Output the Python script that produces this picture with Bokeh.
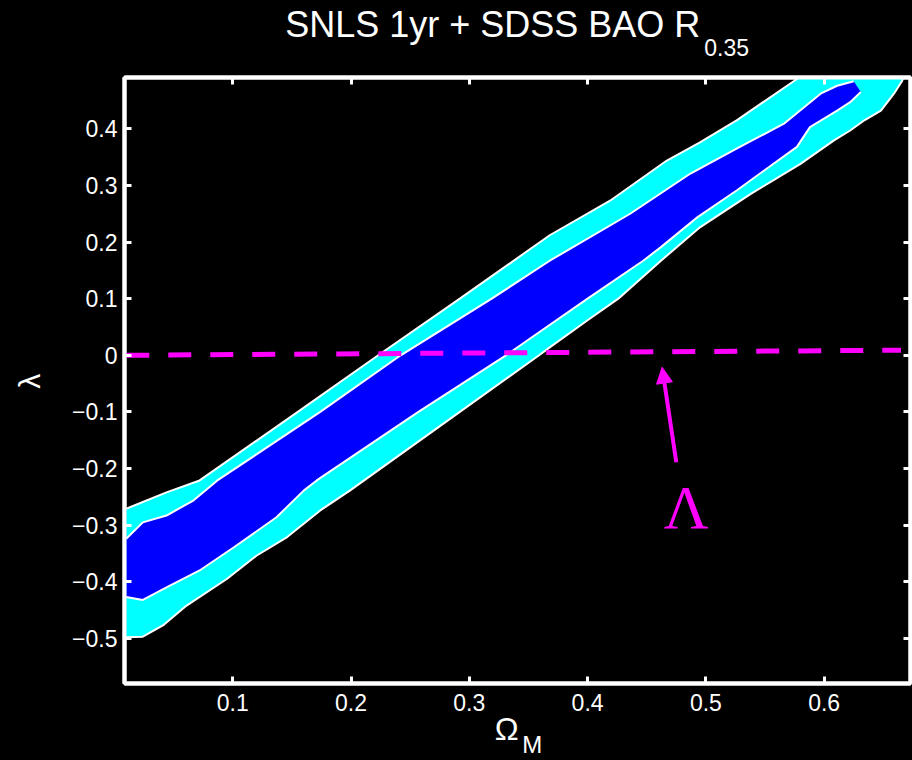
import math
from bokeh.plotting import figure
from bokeh.models import Range1d, LinearAxis, FixedTicker, Label, Arrow, NormalHead, CustomJSTickFormatter
from bokeh.embed import file_html
from bokeh.resources import INLINE

# ---- data ----
# 2-sigma (cyan) region: upper edge from left to top, then right/lower edge from top to left
outer_upper_x = [0.010, 0.024, 0.044, 0.072, 0.155, 0.223, 0.292, 0.368, 0.419, 0.467, 0.495, 0.526, 0.577, 0.580]
outer_upper_y = [-0.271, -0.259, -0.242, -0.221, -0.100, 0.000, 0.100, 0.212, 0.273, 0.344, 0.376, 0.415, 0.488, 0.495]
outer_lower_x = [0.667, 0.666, 0.659, 0.648, 0.634, 0.622, 0.608, 0.580, 0.538, 0.495, 0.462, 0.426, 0.400, 0.368,
                 0.359, 0.292, 0.199, 0.174, 0.146, 0.120, 0.095, 0.061, 0.041, 0.024, 0.010]
outer_lower_y = [0.495, 0.485, 0.462, 0.432, 0.415, 0.397, 0.379, 0.338, 0.285, 0.226, 0.167, 0.100, 0.062, 0.014,
                 0.000, -0.100, -0.239, -0.274, -0.321, -0.354, -0.395, -0.442, -0.477, -0.497, -0.498]

# 1-sigma (blue) region
inner_upper_x = [0.010, 0.024, 0.044, 0.067, 0.087, 0.174, 0.242, 0.319, 0.368, 0.436, 0.487, 0.526, 0.566, 0.597, 0.611, 0.625]
inner_upper_y = [-0.324, -0.295, -0.283, -0.256, -0.221, -0.100, 0.000, 0.100, 0.167, 0.250, 0.321, 0.365, 0.409, 0.462, 0.476, 0.484]
inner_lower_x = [0.631, 0.622, 0.611, 0.588, 0.577, 0.549, 0.526, 0.493, 0.462, 0.447, 0.400, 0.331, 0.257, 0.171,
                 0.160, 0.137, 0.101, 0.072, 0.044, 0.024, 0.010]
inner_lower_y = [0.465, 0.447, 0.432, 0.403, 0.368, 0.326, 0.291, 0.244, 0.191, 0.167, 0.100, 0.000, -0.100, -0.221,
                 -0.239, -0.286, -0.339, -0.380, -0.410, -0.432, -0.427]

# Lambda (cosmological constant) line
lambda_x = [0.010, 0.665]
lambda_y = [0.000, 0.009]

x_ticks = [0.1, 0.2, 0.3, 0.4, 0.5, 0.6]
x_tick_labels = ["0.1", "0.2", "0.3", "0.4", "0.5", "0.6"]
y_ticks = [-0.5, -0.4, -0.3, -0.2, -0.1, 0.0, 0.1, 0.2, 0.3, 0.4]
y_tick_labels = ["\u22120.5", "\u22120.4", "\u22120.3", "\u22120.2", "\u22120.1", "0", "0.1", "0.2", "0.3", "0.4"]

title_text = "SNLS 1yr + SDSS BAO R"
title_sub = "0.35"

# ---- figure ----
p = figure(width=912, height=760, output_backend="svg", toolbar_location=None,
           x_range=Range1d(0.0085, 0.673), y_range=Range1d(-0.5796, 0.4906),
           min_border_left=124, min_border_right=2, min_border_top=77, min_border_bottom=77,
           background_fill_color="black", border_fill_color="black",
           outline_line_color="white", outline_line_width=4)
p.xgrid.visible = False
p.ygrid.visible = False

p.patch(outer_upper_x + outer_lower_x, outer_upper_y + outer_lower_y, fill_color="#00FFFF", line_color=None)
p.patch(inner_upper_x + inner_lower_x, inner_upper_y + inner_lower_y, fill_color="#0000FF", line_color=None)
p.multi_line([outer_upper_x, outer_lower_x, inner_upper_x, inner_lower_x],
             [outer_upper_y, outer_lower_y, inner_upper_y, inner_lower_y],
             line_color="white", line_width=2)

p.line(lambda_x, lambda_y, line_color="#FF00FF", line_width=5, line_dash="23 19")

p.add_layout(Arrow(end=NormalHead(size=16, fill_color="#FF00FF", line_color="#FF00FF"),
                   x_start=0.475, y_start=-0.189, x_end=0.463, y_end=-0.021,
                   line_color="#FF00FF", line_width=4))
p.add_layout(Label(x=0.4835, y=-0.268, text="\u039b", text_color="#FF00FF", text_font="Liberation Serif",
                   text_font_size="62px", text_align="center", text_baseline="middle"))

# axes styling
def style_axis(ax, show_labels, standoff=8):
    ax.axis_line_color = "white"
    ax.axis_line_width = 4
    ax.major_tick_line_color = "white"
    ax.major_tick_line_width = 3
    ax.major_tick_in = 7
    ax.major_tick_out = 0
    ax.minor_tick_line_color = None
    ax.major_label_text_color = "white"
    ax.major_label_text_font = "Liberation Sans"
    ax.major_label_text_font_size = "23px"
    ax.major_label_standoff = standoff
    if not show_labels:
        ax.formatter = CustomJSTickFormatter(code="return ''")
        ax.major_label_standoff = 0
        ax.major_label_text_font_size = "1px"

p.xaxis[0].ticker = FixedTicker(ticks=x_ticks)
p.xaxis[0].major_label_overrides = {t: l for t, l in zip(x_ticks, x_tick_labels)}
style_axis(p.xaxis[0], True, 10)
p.yaxis[0].ticker = FixedTicker(ticks=y_ticks)
p.yaxis[0].major_label_overrides = {t: l for t, l in zip(y_ticks, y_tick_labels)}
style_axis(p.yaxis[0], True, 7)

top_ax = LinearAxis(ticker=FixedTicker(ticks=x_ticks))
style_axis(top_ax, False)
p.add_layout(top_ax, "above")
right_ax = LinearAxis(ticker=FixedTicker(ticks=y_ticks))
style_axis(right_ax, False)
p.add_layout(right_ax, "right")

# title and axis labels, placed in the side panels so they are not clipped to the frame
p.add_layout(Label(x=0.1443, y=0.584, text=title_text, text_color="white", text_font="Liberation Sans",
                   text_font_size="36px", text_align="left", text_baseline="middle"), "above")
p.add_layout(Label(x=0.4987, y=0.5435, text=title_sub, text_color="white", text_font="Liberation Sans",
                   text_font_size="23px", text_align="left", text_baseline="middle"), "above")
p.add_layout(Label(x=-0.0715, y=-0.046, text="\u03bb", text_color="white", text_font="Liberation Sans",
                   text_font_size="30px", text_align="center", text_baseline="middle", angle=math.pi / 2), "left")
p.add_layout(Label(x=0.3316, y=-0.660, text="\u03a9", text_color="white", text_font="Liberation Sans",
                   text_font_size="32px", text_align="center", text_baseline="middle"), "left")
p.add_layout(Label(x=0.3448, y=-0.687, text="M", text_color="white", text_font="Liberation Sans",
                   text_font_size="24px", text_align="left", text_baseline="middle"), "below")

html = file_html(p, INLINE, title="plot")
html = html.replace("</head>", "<style>html, body { background: #000; }</style></head>", 1)
open("out.html", "w").write(html)
